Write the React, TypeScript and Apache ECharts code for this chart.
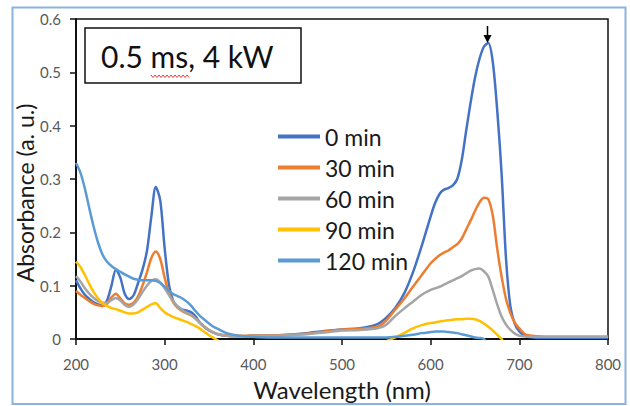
import React, { useEffect, useRef } from "react";
import * as echarts from "echarts";

const wavelengths = [
  200, 205, 210, 215, 220, 225, 230, 235, 240, 245, 250, 255, 260, 265, 270, 275, 280, 285, 290, 295,
  300, 305, 310, 315, 320, 325, 330, 335, 340, 345, 350, 355, 360,
  370, 380, 390, 400, 420, 440, 460, 480, 500, 520, 540,
  550, 560, 570, 580, 590, 600,
  605, 610, 615, 620, 625, 630, 635, 640, 645, 650, 655, 660, 665, 670, 675, 680, 685, 690, 695, 700, 705, 710,
  720, 740, 760, 780, 800,
];

const min0 = [
  0.110, 0.095, 0.083, 0.075, 0.069, 0.065, 0.062, 0.072, 0.100, 0.130, 0.115, 0.085, 0.075, 0.082, 0.105, 0.130, 0.165, 0.230, 0.285, 0.260,
  0.170, 0.100, 0.070, 0.060, 0.055, 0.053, 0.050, 0.042, 0.030, 0.022, 0.016, 0.012, 0.009,
  0.006, 0.005, 0.005, 0.005, 0.006, 0.008, 0.011, 0.015, 0.018, 0.020, 0.028,
  0.040, 0.058, 0.085, 0.125, 0.175, 0.230,
  0.255, 0.272, 0.280, 0.283, 0.288, 0.300, 0.335, 0.390, 0.443, 0.490, 0.525, 0.548, 0.555, 0.520, 0.430, 0.310, 0.150, 0.060, 0.028, 0.014, 0.007, 0.004,
  0.002, 0.002, 0.002, 0.002, 0.002,
];

const min30 = [
  0.090, 0.083, 0.077, 0.071, 0.066, 0.063, 0.062, 0.066, 0.078, 0.085, 0.076, 0.067, 0.064, 0.068, 0.080, 0.100, 0.125, 0.152, 0.164, 0.150,
  0.115, 0.085, 0.068, 0.058, 0.052, 0.048, 0.044, 0.038, 0.030, 0.023, 0.017, 0.012, 0.009,
  0.007, 0.006, 0.006, 0.007, 0.007, 0.008, 0.010, 0.014, 0.018, 0.019, 0.023,
  0.035, 0.055, 0.075, 0.098, 0.120, 0.142,
  0.150, 0.157, 0.162, 0.166, 0.172, 0.178, 0.188, 0.205, 0.222, 0.240, 0.256, 0.265, 0.262, 0.232, 0.170, 0.117, 0.075, 0.048, 0.030, 0.020, 0.011, 0.007,
  0.005, 0.004, 0.004, 0.004, 0.004,
];

const min60 = [
  0.118, 0.108, 0.095, 0.085, 0.077, 0.071, 0.068, 0.068, 0.073, 0.077, 0.072, 0.064, 0.060, 0.065, 0.075, 0.088, 0.100, 0.109, 0.112, 0.106,
  0.095, 0.082, 0.070, 0.060, 0.054, 0.049, 0.045, 0.038, 0.030, 0.023, 0.017, 0.012, 0.009,
  0.006, 0.005, 0.005, 0.006, 0.006, 0.007, 0.009, 0.012, 0.016, 0.017, 0.020,
  0.027, 0.043, 0.057, 0.070, 0.083, 0.092,
  0.095, 0.098, 0.102, 0.106, 0.110, 0.114, 0.118, 0.123, 0.128, 0.131, 0.132, 0.127, 0.117, 0.092, 0.065, 0.042, 0.027, 0.017, 0.010, 0.006, 0.005, 0.004,
  0.004, 0.004, 0.004, 0.004, 0.004,
];

const min90 = [
  0.145, 0.135, 0.120, 0.103, 0.088, 0.076, 0.067, 0.062, 0.058, 0.056, 0.053, 0.050, 0.048, 0.048, 0.050, 0.055, 0.060, 0.065, 0.067, 0.058,
  0.050, 0.045, 0.041, 0.038, 0.035, 0.032, 0.028, 0.024, 0.019, 0.013, 0.007, 0.002, -0.003,
  -0.01, -0.01, -0.01, -0.01, -0.01, -0.01, -0.01, -0.01, -0.01, -0.01, -0.01,
  -0.004, 0.003, 0.011, 0.020, 0.026, 0.030,
  0.031, 0.033, 0.034, 0.035, 0.036, 0.037, 0.037, 0.038, 0.038, 0.037, 0.034, 0.029, 0.023, 0.016, 0.008, 0.000, -0.01, -0.01, -0.01, -0.01, -0.01, -0.01,
  -0.01, -0.01, -0.01, -0.01, -0.01,
];

const min120 = [
  0.330, 0.312, 0.282, 0.245, 0.210, 0.180, 0.158, 0.145, 0.137, 0.131, 0.126, 0.121, 0.117, 0.113, 0.111, 0.110, 0.110, 0.110, 0.109, 0.105,
  0.098, 0.090, 0.084, 0.080, 0.076, 0.070, 0.062, 0.052, 0.043, 0.036, 0.029, 0.023, 0.019,
  0.011, 0.007, 0.005, 0.004, 0.003, 0.003, 0.003, 0.003, 0.003, 0.003, 0.003,
  0.003, 0.004, 0.006, 0.008, 0.011, 0.013,
  0.014, 0.014, 0.014, 0.013, 0.012, 0.011, 0.009, 0.007, 0.005, 0.003, 0.002, 0.000, -0.01, -0.01, -0.01, -0.01, -0.01, -0.01, -0.01, -0.01, -0.01, -0.01,
  -0.01, -0.01, -0.01, -0.01, -0.01,
];

const seriesNames = ["0 min", "30 min", "60 min", "90 min", "120 min"];
const seriesValues = [min0, min30, min60, min90, min120];
const seriesColors = ["#4472C4", "#ED7D31", "#A5A5A5", "#FFC000", "#5B9BD5"];

const xTicks = [200, 300, 400, 500, 600, 700, 800];
const yTicks = [0, 0.1, 0.2, 0.3, 0.4, 0.5, 0.6];

const FONT = "Lato";

export default function App() {
  const ref = useRef<HTMLDivElement>(null);

  useEffect(() => {
    if (!ref.current) return;
    const chart = echarts.init(ref.current, undefined, { renderer: "svg" });

    const wavy: number[][] = [];
    for (let i = 0; i <= 19; i++) {
      wavy.push([151 + i * 2, i % 2 === 0 ? 75 : 77.5]);
    }

    chart.setOption({
      animation: false,
      backgroundColor: "#ffffff",
      textStyle: { fontFamily: FONT },
      grid: { left: 76, right: 22, top: 19, bottom: 63, show: true, borderColor: "#111", borderWidth: 1.5, backgroundColor: "transparent" },
      legend: {
        orient: "vertical",
        left: 273,
        top: 120,
        icon: "rect",
        itemWidth: 42,
        itemHeight: 4,
        itemGap: 8,
        textStyle: { fontFamily: FONT, fontSize: 23, fontWeight: 400, color: "#1a1a1a" },
        data: seriesNames,
      },
      xAxis: {
        type: "value",
        min: xTicks[0],
        max: xTicks[xTicks.length - 1],
        interval: 100,
        name: "Wavelength (nm)",
        nameLocation: "middle",
        nameGap: 38,
        nameTextStyle: { fontFamily: FONT, fontSize: 24, color: "#1a1a1a" },
        axisLine: { show: true, onZero: false, lineStyle: { color: "#111", width: 2 } },
        axisTick: { show: true, inside: false, length: 6, lineStyle: { color: "#111", width: 1.5 } },
        axisLabel: { fontFamily: FONT, fontSize: 15, color: "#595959", margin: 17 },
        splitLine: { show: false },
      },
      yAxis: {
        type: "value",
        min: yTicks[0],
        max: yTicks[yTicks.length - 1],
        interval: 0.1,
        axisLine: { show: true, lineStyle: { color: "#111", width: 2 } },
        axisTick: { show: true, inside: false, length: 6, lineStyle: { color: "#111", width: 1.5 } },
        axisLabel: { fontFamily: FONT, fontSize: 15, color: "#595959", margin: 15 },
        splitLine: { show: false },
      },
      graphic: [
        {
          type: "rect",
          shape: { x: 12.5, y: 7.5, width: 613, height: 396.5 },
          style: { fill: "none", stroke: "#8ab4e0", lineWidth: 2 },
          silent: true,
        },
        {
          type: "rect",
          shape: { x: 85, y: 28, width: 216, height: 55 },
          style: { fill: "#fff", stroke: "#111", lineWidth: 1.5 },
          z: 10,
        },
        {
          type: "text",
          x: 101,
          y: 56,
          style: { text: "0.5 ms, 4 kW", fontFamily: FONT, fontSize: 30, fontWeight: 400, fill: "#111", textVerticalAlign: "middle" },
          z: 11,
        },
        {
          type: "polyline",
          shape: { points: wavy },
          style: { stroke: "#e23b3b", lineWidth: 1, fill: "none" },
          z: 11,
        },
        {
          type: "text",
          x: 25,
          y: 193,
          rotation: Math.PI / 2,
          style: {
            text: "Absorbance (a. u.)",
            fontFamily: FONT,
            fontSize: 23,
            fill: "#1a1a1a",
            textAlign: "center",
            textVerticalAlign: "middle",
          },
        },
        {
          type: "line",
          shape: { x1: 487.5, y1: 26, x2: 487.5, y2: 37 },
          style: { stroke: "#000", lineWidth: 1.5 },
          z: 12,
        },
        {
          type: "polygon",
          shape: { points: [[483.5, 35], [491.5, 35], [487.5, 43]] },
          style: { fill: "#000" },
          z: 12,
        },
      ],
      series: seriesNames.map((name, i) => ({
        name,
        type: "line",
        data: wavelengths.map((w, j) => [w, seriesValues[i][j]]),
        showSymbol: false,
        symbol: "none",
        smooth: 0.3,
        clip: true,
        lineStyle: { color: seriesColors[i], width: 2.5 },
        itemStyle: { color: seriesColors[i] },
      })),
    });

    return () => chart.dispose();
  }, []);

  return (
    <div
      ref={ref}
      style={{ position: "fixed", left: 0, top: 0, width: 630, height: 406 }}
    />
  );
}
